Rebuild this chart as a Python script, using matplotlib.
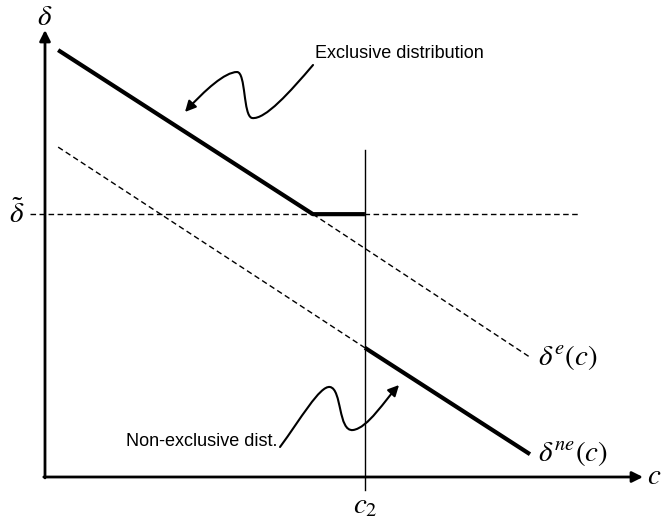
import matplotlib
matplotlib.use("Agg")
import matplotlib.pyplot as plt
from matplotlib.path import Path
from matplotlib.patches import FancyArrowPatch

plt.rcParams['font.family'] = ['Liberation Sans', 'DejaVu Sans']
plt.rcParams['mathtext.fontset'] = 'stix'

# curve data (c, delta)
excl_c = [0.22, 4.48, 5.35]
excl_d = [9.55, 5.88, 5.88]
de_c = [4.48, 8.11]
de_d = [5.88, 2.68]
dne_dash_c = [0.22, 5.35]
dne_dash_d = [7.38, 2.89]
dne_c = [5.35, 8.11]
dne_d = [2.89, 0.51]
d_tilde = 5.88
c2 = 5.35

fig = plt.figure(figsize=(6.61, 5.23), dpi=100)
ax = fig.add_axes([0, 0, 1, 1])
ax.set_xlim(-0.7525, 10.301)
ax.set_ylim(-1.029, 10.671)
ax.axis('off')

# axes with arrows
arr = dict(arrowstyle='-|>', lw=2, color='k', mutation_scale=16, shrinkA=0, shrinkB=0)
ax.annotate('', xy=(0, 10.0), xytext=(0, -0.02), arrowprops=arr)
ax.annotate('', xy=(10.0, 0), xytext=(-0.02, 0), arrowprops=arr)

# lines
ax.plot([-0.25, 8.95], [d_tilde, d_tilde], 'k--', lw=1, dashes=(4, 2.5))
ax.plot(de_c, de_d, 'k--', lw=1, dashes=(4, 2.5))
ax.plot(dne_dash_c, dne_dash_d, 'k--', lw=1, dashes=(4, 2.5))
ax.plot([c2, c2], [-0.29, 7.32], 'k-', lw=1)
ax.plot(excl_c, excl_d, 'k-', lw=3, solid_capstyle='butt')
ax.plot(dne_c, dne_d, 'k-', lw=3, solid_capstyle='butt')

# wiggly arrows
C = Path.CURVE4
p1 = Path([(4.482, 9.217), (4.097, 8.613), (3.679, 7.987), (3.462, 8.031),
           (3.311, 8.076), (3.361, 9.060), (3.211, 9.060),
           (3.010, 9.060), (2.676, 8.658), (2.341, 8.166)],
          [Path.MOVETO, C, C, C, C, C, C, C, C, C])
p2 = Path([(3.930, 0.671), (4.264, 1.275), (4.599, 2.058), (4.766, 2.013),
           (4.967, 1.969), (4.900, 1.007), (5.151, 1.051),
           (5.401, 1.096), (5.686, 1.723), (5.920, 2.058)],
          [Path.MOVETO, C, C, C, C, C, C, C, C, C])
for p in (p1, p2):
    ax.add_patch(FancyArrowPatch(path=p, arrowstyle='-|>', mutation_scale=16,
                                 lw=1.5, color='k', shrinkA=0, shrinkB=0))

ax.text(4.52, 9.485, 'Exclusive distribution', fontsize=13, va='center', ha='left')
ax.text(3.88, 0.80, 'Non-exclusive dist.', fontsize=13, va='center', ha='right')

# math labels
ax.text(0, 10.3, r'$\delta$', fontsize=21, ha='center', va='center')
ax.text(-0.48, d_tilde, r'$\tilde{\delta}$', fontsize=21, ha='center', va='center')
ax.text(10.07, 0.02, r'$c$', fontsize=21, ha='left', va='center')
ax.text(c2, -0.62, r'$c_2$', fontsize=21, ha='center', va='center')
ax.text(8.25, 2.68, r'$\delta^e(c)$', fontsize=21, ha='left', va='center')
ax.text(8.25, 0.53, r'$\delta^{ne}(c)$', fontsize=21, ha='left', va='center')

fig.savefig('out.png', dpi=100)
